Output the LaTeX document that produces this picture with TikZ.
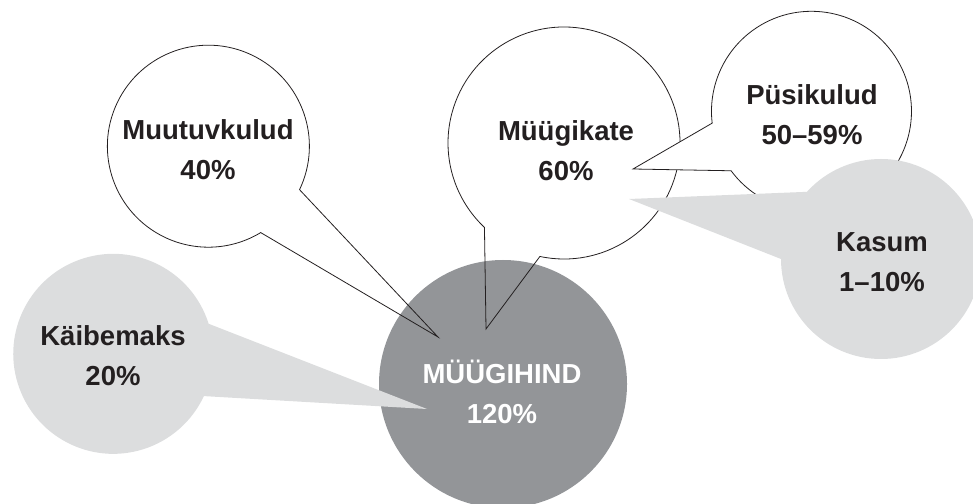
\documentclass[tikz,border=0pt]{standalone}
\usepackage{fontspec}
\setmainfont{Liberation Sans}

\definecolor{darkgrey}{HTML}{939598}
\definecolor{lightgrey}{HTML}{DCDDDE}
\definecolor{ink}{HTML}{231F20}

\begin{document}
\begin{tikzpicture}[x=1pt,y=1pt,
ball/.style={circle,inner sep=0pt,outer sep=0pt,minimum size=#1},
outline/.style={draw=ink,line width=0.8pt,line join=miter},
txt/.style={align=center,text=ink,
	font=\fontsize{27.5}{40}\selectfont\bfseries}
]
\clip (0,0) rectangle (973,503);

\node[ball=248pt,fill=darkgrey] (hind) at (503,119) {};
\node[ball=200pt] (kaibe) at (113,150) {};
\node[ball=202pt] (muutuv) at (208,356) {};
\node[ball=232pt] (kate) at (564,360) {};
\node[ball=200pt] (pysi) at (812,391) {};
\node[ball=200pt] (kasum) at (881,244) {};

\coordinate (kaibe tip) at (427,94);
\coordinate (muutuv tip) at (438,166);
\coordinate (kate tip) at (486,174);
\coordinate (pysi tip) at (633,334);
\coordinate (kasum tip) at (629,304);

% bubbles, back to front
\fill[lightgrey] (kaibe.17.5) arc[start angle=17.5,end angle=335,radius=100pt]
	-- (kaibe tip) -- cycle;
\draw[outline] (muutuv.-25.5) arc[start angle=-25.5,end angle=301.2,radius=101pt]
	-- (muutuv tip) -- cycle;
\draw[outline] (kate.-102) arc[start angle=-102,end angle=226.7,radius=116pt]
	-- (kate tip) -- cycle;
\filldraw[outline,fill=white] (pysi.216.5) arc[start angle=216.5,end angle=546.8,radius=100pt]
	-- (pysi tip) -- cycle;
\fill[lightgrey] (kasum.180) arc[start angle=180,end angle=497.8,radius=100pt]
	-- (kasum tip) -- cycle;

\node[txt,text=white] (hind-t) at (502,111) {MÜÜGIHIND\\120\%};
\node[txt] (kaibe-t) at (113,147) {Käibemaks\\20\%};
\node[txt] (muutuv-t) at (208,353) {Muutuvkulud\\40\%};
\node[txt] (kate-t) at (566,352) {Müügikate\\60\%};
\node[txt] (pysi-t) at (812,388) {Püsikulud\\50–59\%};
\node[txt] (kasum-t) at (882,241) {Kasum\\1–10\%};
\end{tikzpicture}
\end{document}
